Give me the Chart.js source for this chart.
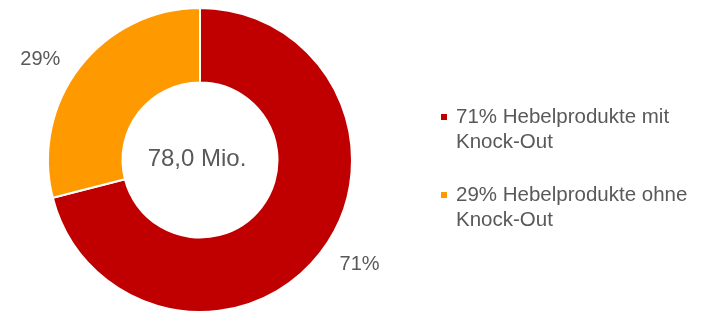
<!DOCTYPE html>
<html>
<head>
  <title>Hebelprodukte</title>
  <script src="https://cdn.jsdelivr.net/npm/chart.js"></script>
  <style>
    html, body { margin: 0; padding: 0; background: #fff; }
    #wrap { width: 701px; height: 313px; }
  </style>
</head>
<body>
  <div id="wrap"><canvas id="myChart" width="701" height="313"></canvas></div>

  <script>
    // data
    const shares = [71, 29];
    const legendLines = [
      ['71% Hebelprodukte mit', 'Knock-Out'],
      ['29% Hebelprodukte ohne', 'Knock-Out']
    ];
    const colors = ['#C00000', '#FF9900'];
    const centerText = '78,0 Mio.';

    const textColor = '#595959';
    const font = '"Liberation Sans", Arial, sans-serif';

    const labelsPlugin = {
      id: 'labels',
      afterDraw(chart) {
        const ctx = chart.ctx;
        const arcs = chart.getDatasetMeta(0).data;
        ctx.save();
        ctx.fillStyle = textColor;

        // percentage labels outside the ring
        ctx.font = '20px ' + font;
        ctx.textAlign = 'center';
        ctx.textBaseline = 'middle';
        arcs.forEach((arc, i) => {
          const mid = (arc.startAngle + arc.endAngle) / 2;
          const x = arc.x + Math.cos(mid) * (arc.outerRadius + 50);
          const y = arc.y + Math.sin(mid) * (arc.outerRadius + 16) + 2;
          ctx.fillText(shares[i] + '%', x, y);
        });

        // total in the middle
        const a = arcs[0];
        ctx.font = '24px ' + font;
        ctx.fillText(centerText, a.x - 3, a.y - 1);

        // legend on the right
        ctx.font = '20.5px ' + font;
        ctx.textAlign = 'left';
        ctx.textBaseline = 'alphabetic';
        const baselines = [123, 201];
        legendLines.forEach((lines, i) => {
          ctx.fillStyle = colors[i];
          ctx.fillRect(441, baselines[i] - 9, 6, 6);
          ctx.fillStyle = textColor;
          lines.forEach((t, j) => ctx.fillText(t, 456, baselines[i] + j * 24.5));
        });
        ctx.restore();
      }
    };

    new Chart(document.getElementById('myChart'), {
      type: 'doughnut',
      data: {
        labels: legendLines.map(l => l.join(' ')),
        datasets: [{
          data: shares,
          backgroundColor: colors,
          borderColor: '#ffffff',
          borderWidth: 2
        }]
      },
      options: {
        responsive: false,
        animation: false,
        cutout: '51%',
        layout: { padding: { left: 46, right: 347, top: 7, bottom: 0 } },
        plugins: {
          legend: { display: false },
          tooltip: { enabled: false }
        }
      },
      plugins: [labelsPlugin]
    });
  </script>
</body>
</html>
